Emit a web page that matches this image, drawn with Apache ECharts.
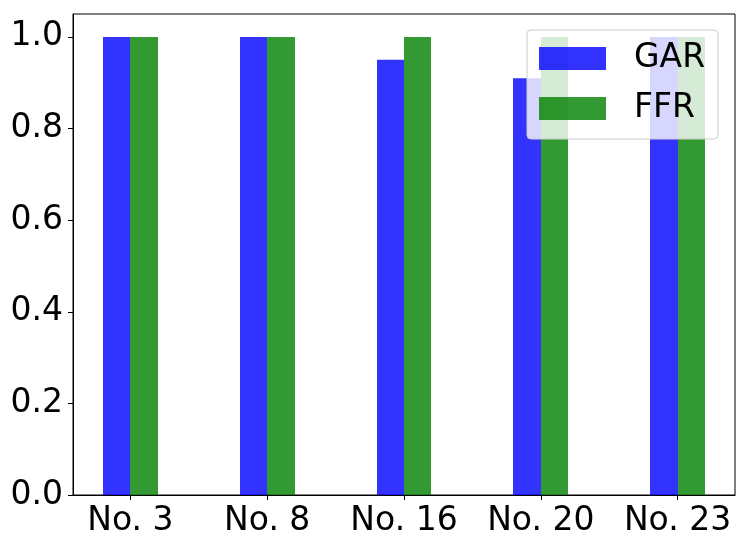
<!DOCTYPE html>
<html>
<head>
<meta charset="utf-8">
<script src="https://cdn.jsdelivr.net/npm/echarts@6/dist/echarts.min.js"></script>
<style>
html,body{margin:0;padding:0;background:#fff;}
#chart{width:748px;height:548px;}
</style>
</head>
<body>
<div id="chart"></div>
<script>
const categories = ['No. 3', 'No. 8', 'No. 16', 'No. 20', 'No. 23'];
const garValues = [1.0, 1.0, 0.95, 0.91, 1.0];
const ffrValues = [1.0, 1.0, 1.0, 1.0, 1.0];
const yTicks = [0, 0.2, 0.4, 0.6, 0.8, 1.0];

const BAR_W = 0.2;
const FONT = 'DejaVu Sans';
const catIdx = categories.map((c, i) => i);

function barRender(params, api) {
  const x = api.value(0), v = api.value(1);
  const p0 = api.coord([x - BAR_W / 2, 0]);
  const p1 = api.coord([x + BAR_W / 2, v]);
  const x0 = Math.round(p0[0]), x1 = Math.round(p1[0]);
  return {
    type: 'rect',
    shape: { x: x0, y: p1[1], width: x1 - x0, height: p0[1] - p1[1] },
    style: { fill: api.visual('color') }
  };
}

const chart = echarts.init(document.getElementById('chart'), null, { renderer: 'canvas' });
chart.setOption({
  animation: false,
  backgroundColor: '#ffffff',
  textStyle: { fontFamily: FONT },
  grid: { left: 73, right: 13, top: 14, bottom: 53, show: true, borderColor: '#000', borderWidth: 1, backgroundColor: 'transparent' },
  xAxis: {
    type: 'value', min: -0.42, max: 4.42,
    splitLine: { show: false },
    axisLine: { show: true, onZero: false, lineStyle: { color: '#000', width: 1 } },
    axisTick: { show: true, customValues: catIdx, length: 5, inside: false, lineStyle: { color: '#000' } },
    axisLabel: { customValues: catIdx, formatter: v => categories[Math.round(v)], fontSize: 33, color: '#000', fontFamily: FONT, margin: 10 }
  },
  yAxis: {
    type: 'value', min: 0, max: 1.05,
    splitLine: { show: false },
    axisLine: { show: true, onZero: false, lineStyle: { color: '#000', width: 1 } },
    axisTick: { show: true, customValues: yTicks, length: 5, inside: false, lineStyle: { color: '#000' } },
    axisLabel: { customValues: yTicks, formatter: v => v.toFixed(1), fontSize: 33, color: '#000', fontFamily: FONT, margin: 10 }
  },
  legend: {
    left: 527, top: 30, orient: 'vertical',
    icon: 'rect', itemWidth: 67, itemHeight: 23, itemGap: 13,
    padding: [10, 13, 12, 12],
    backgroundColor: 'rgba(255,255,255,0.8)', borderColor: '#cccccc', borderWidth: 1, borderRadius: 4,
    textStyle: { fontSize: 33, color: '#000', fontFamily: FONT, lineHeight: 33, padding: [4, 0, 0, 23] },
    data: ['GAR', 'FFR']
  },
  series: [
    { name: 'GAR', type: 'custom', renderItem: barRender, color: 'rgba(0,0,255,0.8)', itemStyle: { color: 'rgba(0,0,255,0.8)' },
      encode: { x: 0, y: 1 }, data: garValues.map((v, i) => [i - BAR_W / 2, v]) },
    { name: 'FFR', type: 'custom', renderItem: barRender, color: 'rgba(0,128,0,0.8)', itemStyle: { color: 'rgba(0,128,0,0.8)' },
      encode: { x: 0, y: 1 }, data: ffrValues.map((v, i) => [i + BAR_W / 2, v]) }
  ]
});
</script>
</body>
</html>
